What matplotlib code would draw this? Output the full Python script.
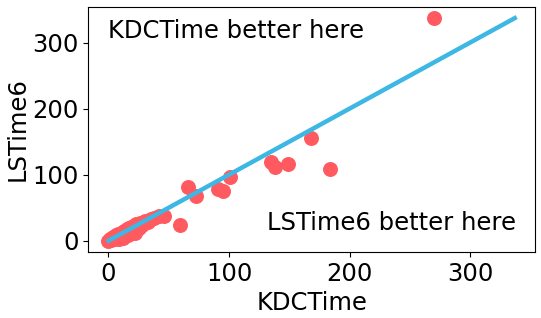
import matplotlib
matplotlib.use("Agg")
import numpy as np
from matplotlib import pyplot as plt

# KDCTime vs LSTime6 per instance
kdc_time = [0, 1, 2, 3, 4, 5, 6, 7, 8, 9, 10, 11, 12, 13, 14, 15, 16, 17, 18, 19,
            20, 21, 22, 23, 25, 26, 28, 30, 33, 35, 38, 42, 46, 59, 66, 73,
            91, 95, 101, 135, 138, 149, 168, 184, 270]
ls_time6 = [0, 2, 1, 4, 6, 3, 8, 5, 10, 2, 12, 9, 4, 14, 11, 17, 8, 19, 15, 21,
            16, 22, 12, 25, 20, 27, 24, 30, 28, 33, 35, 38, 37, 24, 81, 68,
            78, 75, 97, 119, 111, 116, 156, 109, 337]

line_max = 337

fig, ax = plt.subplots(figsize=(5.41, 3.18), dpi=100)
ax.scatter(kdc_time, ls_time6, s=95, color='#FF5A5F', zorder=2)
ax.plot([0, line_max], [0, line_max], color='#3DB7E4', linewidth=3.2, zorder=3)

ax.text(0, 317, "KDCTime better here", fontsize=17.5, va='center', ha='left')
ax.text(338, 27, "LSTime6 better here", fontsize=17.5, va='center', ha='right')

ax.set_xlabel("KDCTime", fontsize=17.5)
ax.set_ylabel("LSTime6", fontsize=17.5, labelpad=2)
ax.set_xticks([0, 100, 200, 300])
ax.set_yticks([0, 100, 200, 300])
ax.tick_params(labelsize=17.5)

plt.subplots_adjust(left=0.163, right=0.989, top=0.978, bottom=0.208)
plt.savefig("out.png")
